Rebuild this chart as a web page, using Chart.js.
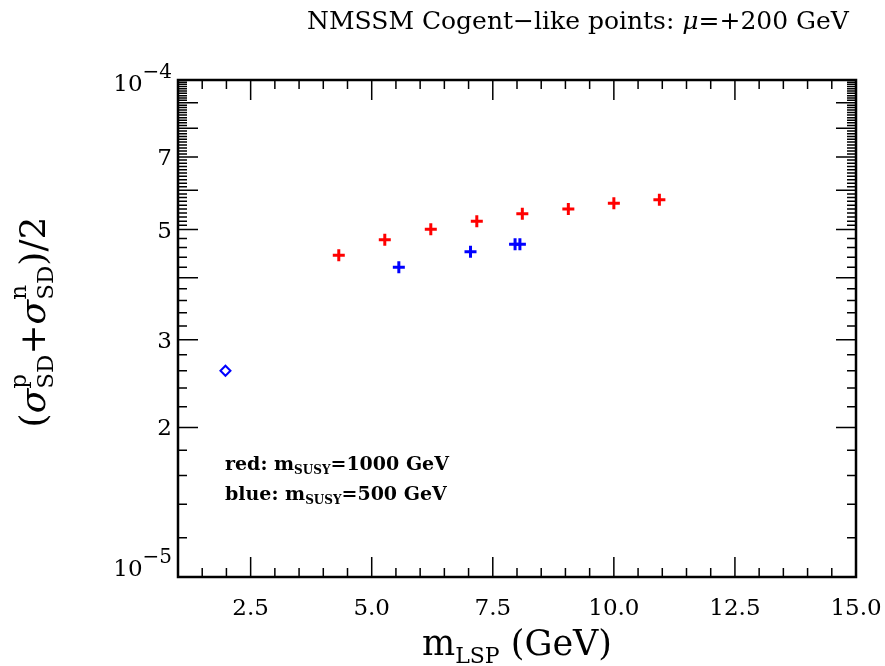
<!DOCTYPE html>
<html>
<head>
<meta charset="utf-8">
<script src="https://cdn.jsdelivr.net/npm/chart.js@4.4.1/dist/chart.umd.min.js"></script>
<style>
  html, body { margin: 0; padding: 0; background: #fff; }
</style>
</head>
<body>
<canvas id="nmssmChart" width="885" height="666"></canvas>
<script>
// values
const redMass = [4.32, 5.27, 6.22, 7.17, 8.11, 9.06, 10.00, 10.94];
const redSigma = [4.44e-5, 4.77e-5, 5.01e-5, 5.20e-5, 5.38e-5, 5.50e-5, 5.65e-5, 5.74e-5];
const blueMass = [5.56, 7.04, 7.96, 8.06];
const blueSigma = [4.20e-5, 4.51e-5, 4.67e-5, 4.67e-5];
const diamondMass = [1.98];
const diamondSigma = [2.60e-5];

const xTickLabels = [2.5, 5.0, 7.5, 10.0, 12.5, 15.0];
const yTickLabels = [2e-5, 3e-5, 5e-5, 7e-5];
const yDecades = [1e-5, 1e-4];

const SERIF = '"DejaVu Serif", serif';

function toPoints(xs, ys) {
    return xs.map((m, i) => ({ x: m, y: ys[i] }));
}

// draws a run of text pieces, each with its own font and vertical shift
function drawRich(ctx, parts, x, y, align) {
    let total = 0;
    parts.forEach(p => {
        ctx.font = p.font;
        p.w = ctx.measureText(p.t).width;
        if (!p.stack) total += p.w;
    });
    let cx = align === 'center' ? x - total / 2 : (align === 'right' ? x - total : x);
    parts.forEach(p => {
        ctx.font = p.font;
        ctx.fillText(p.t, cx, y + (p.dy || 0));
        if (!p.stack) cx += p.w;
    });
}

const decorations = {
    id: 'decorations',
    afterDraw(chart) {
        const { ctx, chartArea: a, scales: { x, y } } = chart;
        ctx.save();
        ctx.strokeStyle = '#000';
        ctx.fillStyle = '#000';

        // x ticks, bottom and top, every 0.5
        ctx.lineWidth = 1.5;
        ctx.beginPath();
        for (let v = 1; v <= 15.001; v += 0.5) {
            const px = x.getPixelForValue(v);
            const major = xTickLabels.some(t => Math.abs(t - v) < 1e-6);
            const len = major ? 20 : 9;
            ctx.moveTo(px, a.bottom); ctx.lineTo(px, a.bottom - len);
            ctx.moveTo(px, a.top); ctx.lineTo(px, a.top + len);
        }
        // y ticks, left and right
        for (let m = 1; m <= 10.001; m += (m < 4.999 ? 0.2 : 0.1)) {
            const py = y.getPixelForValue(m * 1e-5);
            const major = Math.abs(m - Math.round(m)) < 1e-6;
            const len = major ? 20 : 9;
            ctx.moveTo(a.left, py); ctx.lineTo(a.left + len, py);
            ctx.moveTo(a.right, py); ctx.lineTo(a.right - len, py);
        }
        ctx.stroke();

        // frame
        ctx.lineWidth = 2.5;
        ctx.strokeRect(a.left, a.top, a.right - a.left, a.bottom - a.top);

        ctx.textAlign = 'left';
        ctx.textBaseline = 'alphabetic';

        // x tick labels
        xTickLabels.forEach(v => {
            drawRich(ctx, [{ t: v.toFixed(1), font: '23px ' + SERIF }], x.getPixelForValue(v), a.bottom + 38, 'center');
        });

        // y tick labels
        yTickLabels.forEach(v => {
            const py = y.getPixelForValue(v);
            drawRich(ctx, [{ t: String(Math.round(v * 1e5)), font: '23px ' + SERIF }], a.left - 6, py + 8, 'right');
        });
        yDecades.forEach(v => {
            const py = y.getPixelForValue(v);
            const exp = Math.round(Math.log10(v));
            const off = v === 1e-4 ? 11 : -1;
            drawRich(ctx, [
                { t: '10', font: '23px ' + SERIF },
                { t: '\u2212' + Math.abs(exp), font: '20px ' + SERIF, dy: -13 }
            ], a.left - 6, py + off, 'right');
        });

        // title
        drawRich(ctx, [
            { t: 'NMSSM Cogent\u2212like points: ', font: '25px ' + SERIF },
            { t: '\u03bc', font: 'italic 25px ' + SERIF },
            { t: '=+200 GeV', font: '25px ' + SERIF }
        ], 578, 29, 'center');

        // x axis title
        drawRich(ctx, [
            { t: 'm', font: '35px ' + SERIF },
            { t: 'LSP', font: '22px ' + SERIF, dy: 8 },
            { t: ' (GeV)', font: '35px ' + SERIF }
        ], (a.left + a.right) / 2, 655, 'center');

        // y axis title, rotated
        ctx.save();
        ctx.translate(45, 322);
        ctx.rotate(-Math.PI / 2);
        drawRich(ctx, [
            { t: '(', font: '36px ' + SERIF },
            { t: '\u03c3', font: 'italic 36px ' + SERIF },
            { t: 'p', font: '23px ' + SERIF, dy: -19, stack: true },
            { t: 'SD', font: '23px ' + SERIF, dy: 8 },
            { t: '+', font: '36px ' + SERIF },
            { t: '\u03c3', font: 'italic 36px ' + SERIF },
            { t: 'n', font: '23px ' + SERIF, dy: -19, stack: true },
            { t: 'SD', font: '23px ' + SERIF, dy: 8 },
            { t: ')/2', font: '36px ' + SERIF }
        ], 0, 0, 'center');
        ctx.restore();

        // in-plot note
        drawRich(ctx, [
            { t: 'red: m', font: 'bold 19px ' + SERIF },
            { t: 'SUSY', font: 'bold 12px ' + SERIF, dy: 4 },
            { t: '=1000 GeV', font: 'bold 19px ' + SERIF }
        ], 225, 470, 'left');
        drawRich(ctx, [
            { t: 'blue: m', font: 'bold 19px ' + SERIF },
            { t: 'SUSY', font: 'bold 12px ' + SERIF, dy: 4 },
            { t: '=500 GeV', font: 'bold 19px ' + SERIF }
        ], 225, 500, 'left');

        ctx.restore();
    }
};

const ctx = document.getElementById('nmssmChart').getContext('2d');
const nmssmChart = new Chart(ctx, {
    type: 'scatter',
    data: {
        datasets: [
            {
                label: 'red: mSUSY=1000 GeV',
                data: toPoints(redMass, redSigma),
                pointStyle: 'cross',
                radius: 6,
                borderWidth: 3,
                borderColor: '#ff0000',
                backgroundColor: '#ff0000'
            },
            {
                label: 'blue: mSUSY=500 GeV',
                data: toPoints(blueMass, blueSigma),
                pointStyle: 'cross',
                radius: 6,
                borderWidth: 3,
                borderColor: '#0000ff',
                backgroundColor: '#0000ff'
            },
            {
                label: 'blue diamond',
                data: toPoints(diamondMass, diamondSigma),
                pointStyle: 'rectRot',
                radius: 5,
                borderWidth: 2,
                borderColor: '#0000ff',
                backgroundColor: '#ffffff'
            },
            {
                label: 'diamond centre',
                data: toPoints(diamondMass, diamondSigma),
                pointStyle: 'circle',
                radius: 1,
                borderWidth: 0,
                backgroundColor: '#0000ff'
            }
        ]
    },
    options: {
        responsive: false,
        animation: false,
        devicePixelRatio: 1,
        layout: { padding: { left: 178, top: 80, right: 29, bottom: 89 } },
        plugins: {
            legend: { display: false },
            tooltip: { enabled: false }
        },
        scales: {
            x: { type: 'linear', min: 1, max: 15, display: false },
            y: { type: 'logarithmic', min: 1e-5, max: 1e-4, display: false }
        }
    },
    plugins: [decorations]
});
</script>
</body>
</html>
